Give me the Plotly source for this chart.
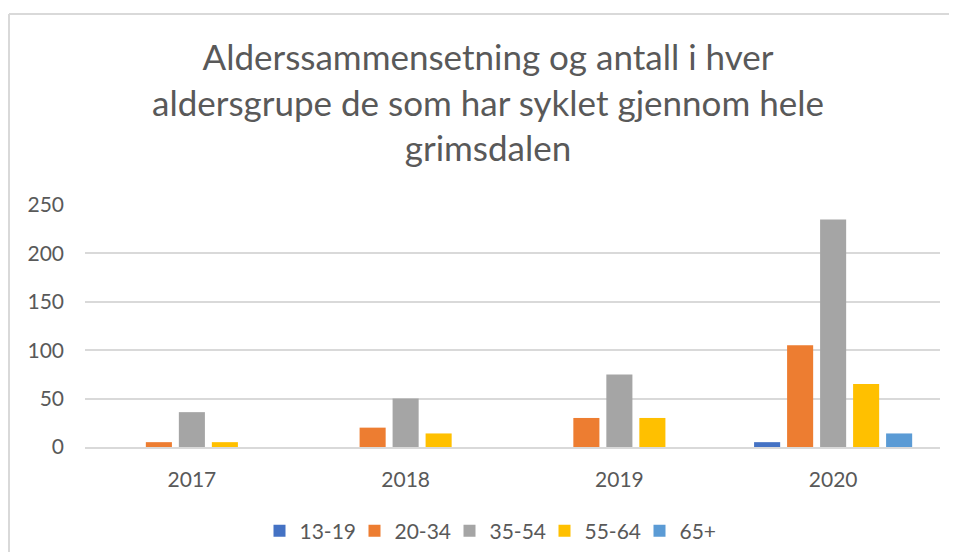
import plotly.graph_objects as go

years = ["2017", "2018", "2019", "2020"]
groups = ["13-19", "20-34", "35-54", "55-64", "65+"]
v_13_19 = [0, 0, 0, 5]
v_20_34 = [5, 20, 30, 105]
v_35_54 = [36, 50, 75, 235]
v_55_64 = [5, 14, 30, 65]
v_65p = [0, 0, 0, 14]
colors = ["#4472C4", "#ED7D31", "#A5A5A5", "#FFC000", "#5B9BD5"]
title_text = "Alderssammensetning og antall i hver<br>aldersgrupe de som har syklet gjennom hele<br>grimsdalen"

series = [v_13_19, v_20_34, v_35_54, v_55_64, v_65p]

fig = go.Figure()
for name, vals, col in zip(groups, series, colors):
    fig.add_trace(go.Bar(x=years, y=vals, name=name, marker=dict(color=col, line=dict(width=0))))

# page body has an 8px margin on every side; figure coordinates = reference - 8
OFF = 8
W, H = 957 - 2 * OFF, 560 - 2 * OFF
L, T = 85 - OFF, 205 - OFF
R = W - (940 - OFF)
B = H - (447 - OFF)
pw, ph = W - L - R, H - T - B

def px_x(x):
    return (x - OFF - L) / pw

def px_y(y):
    return (H - B - (y - OFF)) / ph

fig.update_layout(
    width=W, height=H,
    margin=dict(l=L, r=R, t=T, b=B),
    paper_bgcolor="white", plot_bgcolor="white",
    barmode="group", bargap=0.228, bargroupgap=0.21,
    font=dict(family="Lato", color="#595959", size=21),
    title=dict(text=title_text, x=(488 - OFF) / W, xanchor="center",
               y=1 - (70 - OFF) / H, yanchor="middle", yref="container",
               font=dict(family="Lato", size=35, color="#595959")),
    legend=dict(orientation="h", xref="container", yref="container",
                x=(497 - OFF) / W, xanchor="center",
                y=1 - (531 - OFF) / H, yanchor="middle",
                font=dict(size=21, color="#595959"), itemwidth=30,
                entrywidth=50, traceorder="normal"),
    yaxis=dict(range=[0, 250], dtick=50, showgrid=True, gridcolor="#D9D9D9",
               gridwidth=1.5, zeroline=False, showline=False,
               ticks="", ticklabelstandoff=20, tickfont=dict(size=21)),
    xaxis=dict(showline=True, linecolor="#D9D9D9", linewidth=1.5,
               ticks="outside", ticklen=13, tickcolor="rgba(0,0,0,0)",
               tickfont=dict(size=21)),
    shapes=[
        dict(type="line", xref="paper", yref="paper",
             x0=px_x(9), x1=px_x(1100), y0=px_y(14), y1=px_y(14),
             line=dict(color="#D9D9D9", width=2), layer="below"),
        dict(type="line", xref="paper", yref="paper",
             x0=px_x(9), x1=px_x(9), y0=px_y(14), y1=px_y(700),
             line=dict(color="#D9D9D9", width=2), layer="below"),
    ],
)

fig.write_html("out.html")
